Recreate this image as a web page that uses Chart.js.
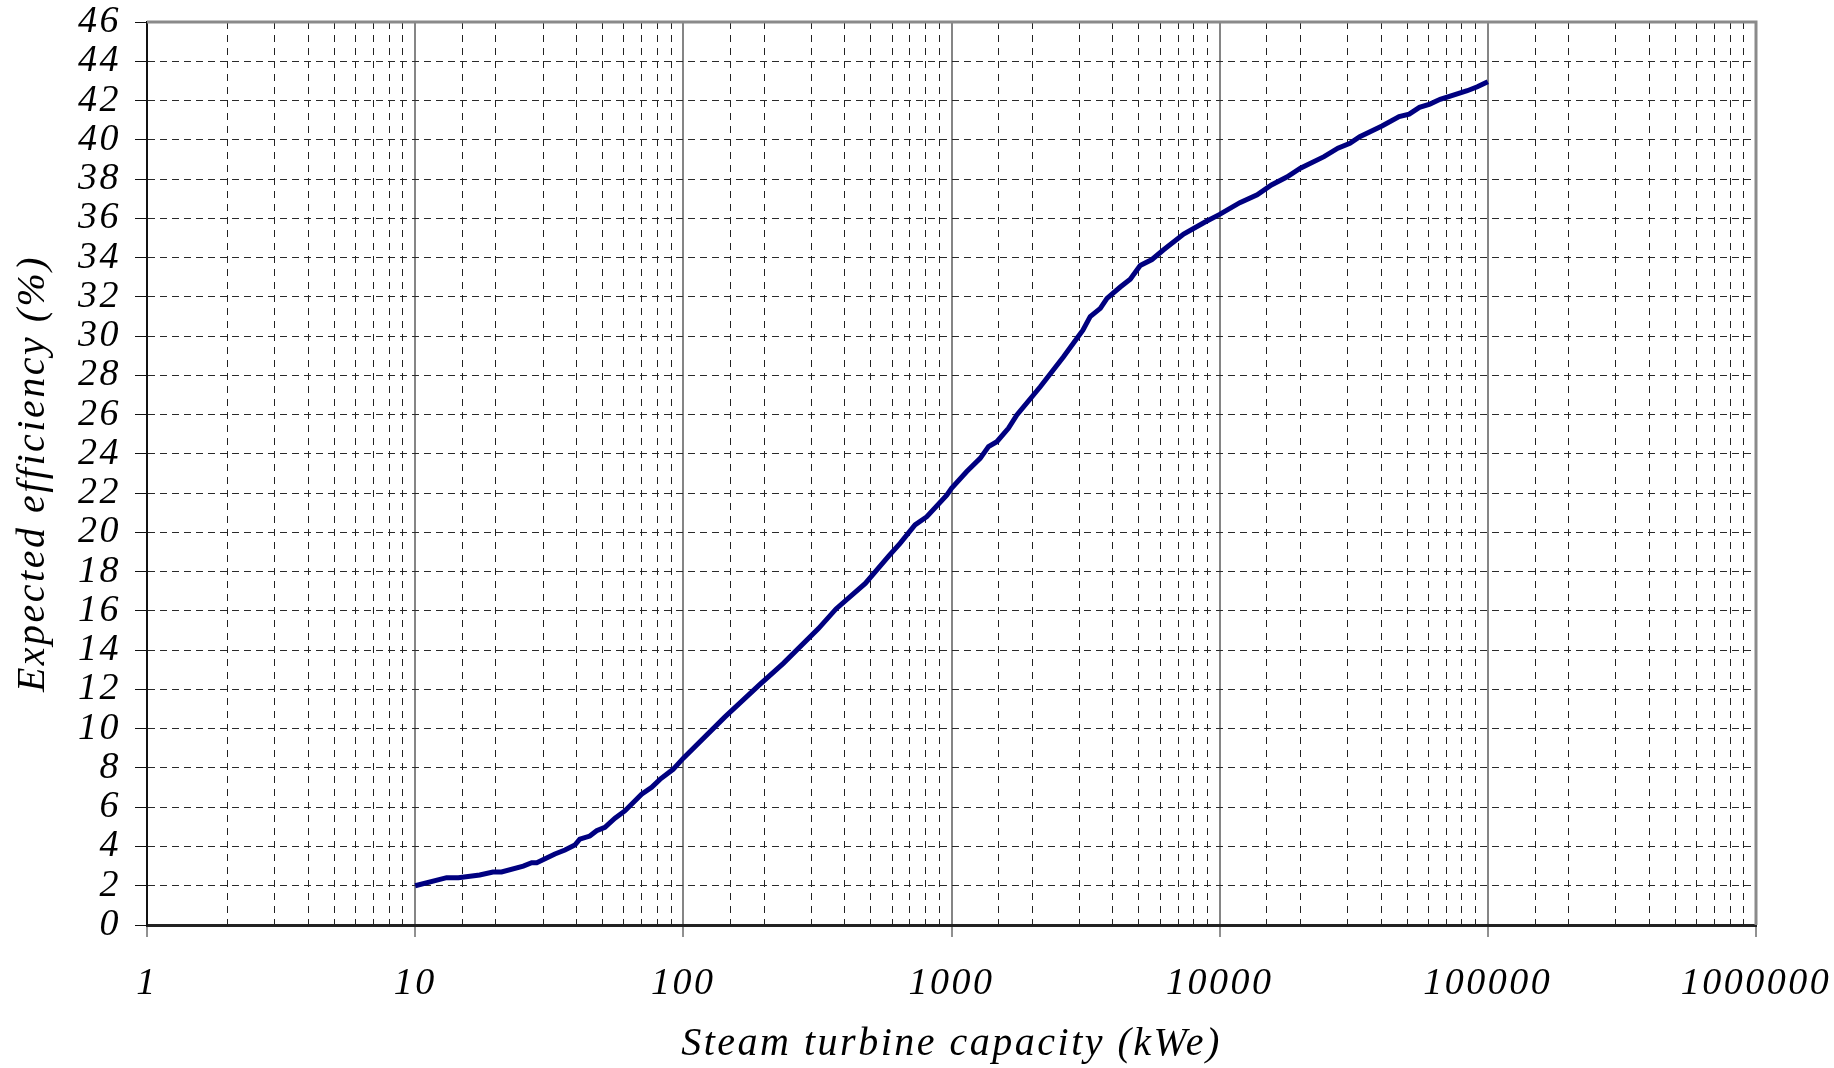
<!DOCTYPE html>
<html>
<head>
<meta charset="utf-8">
<title>Steam turbine efficiency</title>
<script src="https://cdn.jsdelivr.net/npm/chart.js@4.4.1/dist/chart.umd.min.js"></script>
<style>
    html, body { margin: 0; padding: 0; background: #fff; }
    #wrap { width: 1834px; height: 1068px; position: relative; }
</style>
</head>
<body>
<div id="wrap"><canvas id="efficiencyChart"></canvas></div>
<script>
// values
const capacity = [10, 13.1, 14.5, 17.4, 19.5, 21, 25.3, 27.2, 28.4, 33.2, 36.2, 39.4, 41.1, 44.8, 47.5, 51, 55.6, 60.5, 69.9, 76.2, 81.8, 91.6,
    100, 143, 193, 236, 319, 371, 477, 584, 643, 731, 809, 960,
    1000, 1140, 1279, 1374, 1476, 1630, 1753, 2143, 2617, 2937, 3090, 3290, 3589, 3800, 4260, 4640, 5055, 5590, 6180, 7340, 8790,
    10000, 11890, 13800, 15600, 17800, 20000, 24500, 27600, 30600, 33300, 40300, 46700, 50900, 55600, 60800, 66400, 72400, 83800, 91400, 100000];
const efficiency = [2.0, 2.41, 2.41, 2.55, 2.70, 2.70, 3.0, 3.17, 3.17, 3.62, 3.82, 4.07, 4.37, 4.53, 4.80, 4.98, 5.44, 5.81, 6.66, 7.01, 7.42, 7.93,
    8.5, 10.6, 12.26, 13.33, 15.1, 16.1, 17.4, 18.8, 19.44, 20.38, 20.8, 21.9,
    22.25, 23.1, 23.77, 24.37, 24.62, 25.3, 25.98, 27.42, 28.95, 29.89, 30.3, 30.99, 31.41, 31.92, 32.5, 32.9, 33.6, 33.9, 34.4, 35.2, 35.8,
    36.2, 36.8, 37.2, 37.7, 38.1, 38.55, 39.14, 39.57, 39.82, 40.16, 40.7, 41.18, 41.31, 41.65, 41.82, 42.06, 42.23, 42.5, 42.7, 42.96];

const xMin = 1, xMax = 1000000;
const yMin = 0, yMax = 46, yStep = 2;

const serif = "'Liberation Serif', 'Times New Roman', serif";

function isDecade(v) {
    return v !== undefined && /^10*$/.test(String(v));
}

// spreads the glyphs a little, like the original Times rendering
const spacing = {
    id: 'spacing',
    beforeLayout(chart) { chart.ctx.letterSpacing = '2.5px'; },
    beforeDraw(chart) { chart.ctx.letterSpacing = '2.5px'; }
};

// grey top and right edges of the plot box
const frame = {
    id: 'frame',
    beforeDatasetsDraw(chart) {
        const { ctx, chartArea: { left, right, top, bottom } } = chart;
        ctx.save();
        ctx.strokeStyle = '#8a8a8a';
        ctx.lineWidth = 3;
        ctx.beginPath();
        ctx.moveTo(left, top);
        ctx.lineTo(right, top);
        ctx.lineTo(right, bottom);
        ctx.stroke();
        ctx.restore();
    }
};

const points = capacity.map((c, i) => ({ x: c, y: efficiency[i] }));

const ctx = document.getElementById('efficiencyChart').getContext('2d');
const chart = new Chart(ctx, {
    type: 'line',
    data: {
        datasets: [{
            label: 'Expected efficiency',
            data: points,
            borderColor: '#000080',
            borderWidth: 5,
            pointRadius: 0,
            tension: 0,
            fill: false
        }]
    },
    options: {
        responsive: true,
        maintainAspectRatio: false,
        animation: false,
        layout: { padding: { left: 0, top: 22, right: 78, bottom: 0 } },
        plugins: {
            legend: { display: false },
            tooltip: { enabled: false }
        },
        scales: {
            x: {
                type: 'logarithmic',
                min: xMin,
                max: xMax,
                afterFit: scale => {
                    scale.height = 143;
                    scale.paddingLeft = 0;
                    scale.paddingRight = 0;
                },
                grid: {
                    color: c => isDecade(c.tick && c.tick.value) ? '#858585' : '#222',
                    lineWidth: c => isDecade(c.tick && c.tick.value) ? 2 : 1,
                    tickLength: 12,
                    tickColor: c => isDecade(c.tick && c.tick.value) ? '#222' : 'rgba(0,0,0,0)',
                    tickWidth: 1
                },
                border: {
                    color: '#222',
                    width: 3,
                    dash: c => (c.tick && !isDecade(c.tick.value)) ? [7, 6] : []
                },
                ticks: {
                    autoSkip: false,
                    maxRotation: 0,
                    padding: 24,
                    color: '#000',
                    font: { family: serif, style: 'italic', size: 38 },
                    callback: value => isDecade(value) ? String(value) : ''
                },
                title: {
                    display: true,
                    text: 'Steam turbine capacity (kWe)',
                    color: '#000',
                    font: { family: serif, style: 'italic', size: 40 },
                    padding: { top: 0, bottom: 0 }
                }
            },
            y: {
                min: yMin,
                max: yMax,
                afterFit: scale => {
                    scale.width = 147;
                    scale.paddingTop = 0;
                    scale.paddingBottom = 0;
                },
                grid: {
                    color: '#2a2a2a',
                    lineWidth: 1,
                    tickLength: 12,
                    tickColor: '#111',
                    tickWidth: 1
                },
                border: {
                    color: '#111',
                    width: 2,
                    dash: [7, 5]
                },
                ticks: {
                    stepSize: yStep,
                    autoSkip: false,
                    padding: 14,
                    color: '#000',
                    font: { family: serif, style: 'italic', size: 38 }
                },
                title: {
                    display: true,
                    text: 'Expected efficiency (%)',
                    color: '#000',
                    font: { family: serif, style: 'italic', size: 40 },
                    padding: { top: 9, bottom: 0 }
                }
            }
        }
    },
    plugins: [spacing, frame]
});
</script>
</body>
</html>
